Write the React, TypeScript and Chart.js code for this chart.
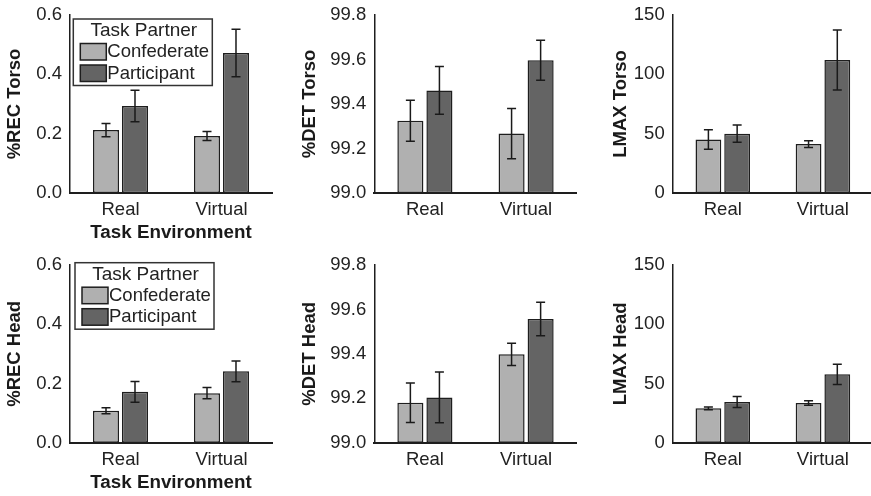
import React, { useEffect, useRef } from 'react';
import { Chart, registerables } from 'chart.js';

Chart.register(...registerables);

// ---------- data ----------
const categories = ['Real', 'Virtual'];
const seriesNames = ['Confederate', 'Participant'];
const legendTitle = 'Task Partner';
const xAxisTitle = 'Task Environment';

const recTicks = [0, 0.2, 0.4, 0.6];
const detTicks = [99.0, 99.2, 99.4, 99.6, 99.8];
const lmaxTicks = [0, 50, 100, 150];

const recTorsoConfederate = [0.212, 0.192];
const recTorsoConfederateSE = [0.022, 0.015];
const recTorsoParticipant = [0.293, 0.472];
const recTorsoParticipantSE = [0.053, 0.08];

const detTorsoConfederate = [99.325, 99.267];
const detTorsoConfederateSE = [0.092, 0.113];
const detTorsoParticipant = [99.461, 99.597];
const detTorsoParticipantSE = [0.107, 0.09];

const lmaxTorsoConfederate = [45.0, 41.2];
const lmaxTorsoConfederateSE = [8.2, 2.9];
const lmaxTorsoParticipant = [50.0, 112.0];
const lmaxTorsoParticipantSE = [7.3, 25.3];

const recHeadConfederate = [0.108, 0.167];
const recHeadConfederateSE = [0.01, 0.019];
const recHeadParticipant = [0.172, 0.241];
const recHeadParticipantSE = [0.035, 0.035];

const detHeadConfederate = [99.18, 99.398];
const detHeadConfederateSE = [0.089, 0.05];
const detHeadParticipant = [99.204, 99.557];
const detHeadParticipantSE = [0.114, 0.075];

const lmaxHeadConfederate = [29.0, 33.5];
const lmaxHeadConfederateSE = [1.1, 1.9];
const lmaxHeadParticipant = [34.3, 57.7];
const lmaxHeadParticipantSE = [4.6, 8.6];

// ---------- styling / layout ----------
const FONT = "'Liberation Sans', Arial, Helvetica, sans-serif";
const TEXT = '#222222';
const LIGHT = '#b0b0b0';
const DARK = '#646464';
const EDGE = '#1e1e1e';

const colX = [0, 290, 580];
const colW = [290, 290, 293];
const axisX = [70, 84.3, 92.7];
const rightPad = [18, 3.3, 0];
const yTitleCenter = [14.5, 19.5, 40.5];
const rowY = [0, 248];
const rowH = 248;
const topPad = [15, 17];
const xScaleH = [51.3, 51.9];
const bottomPad = [3.7, 1.4];
const legendOffset = [
  [3.3, 4],
  [5, -2.3],
];

type PanelDef = {
  row: number;
  col: number;
  yTitle: string;
  conf: number[];
  confSE: number[];
  part: number[];
  partSE: number[];
  ticks: number[];
  decimals: number;
  legend: boolean;
};

const panels: PanelDef[] = [
  { row: 0, col: 0, yTitle: '%REC Torso', conf: recTorsoConfederate, confSE: recTorsoConfederateSE, part: recTorsoParticipant, partSE: recTorsoParticipantSE, ticks: recTicks, decimals: 1, legend: true },
  { row: 0, col: 1, yTitle: '%DET Torso', conf: detTorsoConfederate, confSE: detTorsoConfederateSE, part: detTorsoParticipant, partSE: detTorsoParticipantSE, ticks: detTicks, decimals: 1, legend: false },
  { row: 0, col: 2, yTitle: 'LMAX Torso', conf: lmaxTorsoConfederate, confSE: lmaxTorsoConfederateSE, part: lmaxTorsoParticipant, partSE: lmaxTorsoParticipantSE, ticks: lmaxTicks, decimals: 0, legend: false },
  { row: 1, col: 0, yTitle: '%REC Head', conf: recHeadConfederate, confSE: recHeadConfederateSE, part: recHeadParticipant, partSE: recHeadParticipantSE, ticks: recTicks, decimals: 1, legend: true },
  { row: 1, col: 1, yTitle: '%DET Head', conf: detHeadConfederate, confSE: detHeadConfederateSE, part: detHeadParticipant, partSE: detHeadParticipantSE, ticks: detTicks, decimals: 1, legend: false },
  { row: 1, col: 2, yTitle: 'LMAX Head', conf: lmaxHeadConfederate, confSE: lmaxHeadConfederateSE, part: lmaxHeadParticipant, partSE: lmaxHeadParticipantSE, ticks: lmaxTicks, decimals: 0, legend: false },
];

// ---------- plugins ----------
const errorBarPlugin = {
  id: 'errorBars',
  afterDatasetsDraw(chart: any) {
    const ctx = chart.ctx;
    const y = chart.scales.y;
    chart.data.datasets.forEach((ds: any, i: number) => {
      const meta = chart.getDatasetMeta(i);
      meta.data.forEach((bar: any, j: number) => {
        const v = ds.data[j];
        const e = ds.errors ? ds.errors[j] : 0;
        const top = y.getPixelForValue(v + e);
        const bot = y.getPixelForValue(v - e);
        const cap = 4.5;
        ctx.save();
        ctx.strokeStyle = '#1a1a1a';
        ctx.lineWidth = 1.5;
        ctx.beginPath();
        ctx.moveTo(bar.x, top);
        ctx.lineTo(bar.x, bot);
        ctx.moveTo(bar.x - cap, top);
        ctx.lineTo(bar.x + cap, top);
        ctx.moveTo(bar.x - cap, bot);
        ctx.lineTo(bar.x + cap, bot);
        ctx.stroke();
        ctx.restore();
      });
    });
  },
};

const legendBoxPlugin = {
  id: 'legendBox',
  afterDraw(chart: any, _args: any, opts: any) {
    if (!opts || !opts.display) return;
    const ctx = chart.ctx;
    const { left, top } = chart.chartArea;
    const bx = left + opts.dx;
    const by = top + opts.dy;
    const bw = 139;
    const bh = 66.5;
    ctx.save();
    ctx.fillStyle = '#ffffff';
    ctx.fillRect(bx, by, bw, bh);
    ctx.strokeStyle = '#333333';
    ctx.lineWidth = 1.5;
    ctx.strokeRect(bx, by, bw, bh);
    ctx.fillStyle = TEXT;
    ctx.font = `19px ${FONT}`;
    ctx.textAlign = 'center';
    ctx.textBaseline = 'middle';
    ctx.fillText(opts.title, bx + bw / 2 + 1, by + 12);
    chart.data.datasets.forEach((ds: any, i: number) => {
      const sy = by + 24.5 + i * 21.5;
      ctx.fillStyle = ds.backgroundColor;
      ctx.fillRect(bx + 7, sy, 26, 16.5);
      ctx.strokeStyle = EDGE;
      ctx.lineWidth = 1.5;
      ctx.strokeRect(bx + 7, sy, 26, 16.5);
      ctx.fillStyle = TEXT;
      ctx.textAlign = 'left';
      ctx.font = `18.5px ${FONT}`;
      ctx.fillText(ds.label, bx + 34, sy + 8.5);
    });
    ctx.restore();
  },
};

// ---------- panel ----------
function Panel({ p }: { p: PanelDef }) {
  const ref = useRef<HTMLCanvasElement>(null);
  const w = colW[p.col];
  const h = rowH;

  useEffect(() => {
    if (!ref.current) return;
    const ticks = p.ticks;
    const yMin = ticks[0];
    const yMax = ticks[ticks.length - 1];
    const showXTitle = p.col === 0;
    const chart = new Chart(ref.current, {
      type: 'bar',
      data: {
        labels: categories,
        datasets: [
          {
            label: seriesNames[0],
            data: p.conf,
            errors: p.confSE,
            backgroundColor: LIGHT,
            borderColor: EDGE,
            borderWidth: 1.5,
            borderSkipped: false,
            base: yMin,
            categoryPercentage: 0.574,
            barPercentage: 0.897,
          } as any,
          {
            label: seriesNames[1],
            data: p.part,
            errors: p.partSE,
            backgroundColor: DARK,
            borderColor: EDGE,
            borderWidth: 1.5,
            borderSkipped: false,
            base: yMin,
            categoryPercentage: 0.574,
            barPercentage: 0.897,
          } as any,
        ],
      },
      options: {
        animation: false,
        responsive: false,
        maintainAspectRatio: false,
        devicePixelRatio: 1,
        layout: {
          padding: { left: 0, right: rightPad[p.col], top: topPad[p.row], bottom: bottomPad[p.row] },
        },
        plugins: {
          legend: { display: false },
          tooltip: { enabled: false },
          legendBox: {
            display: p.legend,
            title: legendTitle,
            dx: legendOffset[p.row][0],
            dy: legendOffset[p.row][1],
          },
        } as any,
        scales: {
          x: {
            type: 'category',
            offset: true,
            grid: { display: false, drawTicks: false, tickLength: 0 },
            border: { display: true, color: EDGE, width: 2 },
            ticks: {
              color: TEXT,
              font: { family: FONT, size: 18.5 },
              padding: 6,
              maxRotation: 0,
              autoSkip: false,
            },
            title: {
              display: showXTitle,
              text: xAxisTitle,
              color: '#1a1a1a',
              font: { family: FONT, size: 18.8, weight: 'bold' },
              padding: { top: 0, bottom: 0 },
            },
            afterFit: (s: any) => {
              s.height = xScaleH[p.row];
              s.paddingLeft = 0;
              s.paddingRight = 0;
            },
          },
          y: {
            type: 'linear',
            min: yMin,
            max: yMax,
            grid: { display: false, drawTicks: false, tickLength: 0 },
            border: { display: true, color: EDGE, width: 1.5 },
            afterBuildTicks: (s: any) => {
              s.ticks = ticks.map((v) => ({ value: v }));
            },
            ticks: {
              color: TEXT,
              font: { family: FONT, size: 18.5 },
              padding: 8,
              callback: (v: any) => Number(v).toFixed(p.decimals),
            },
            title: {
              display: true,
              text: p.yTitle,
              color: '#1a1a1a',
              font: { family: FONT, size: 18.5, weight: 'bold' },
              padding: { top: yTitleCenter[p.col] - 11.1, bottom: 0 },
            },
            afterFit: (s: any) => {
              s.width = axisX[p.col];
              s.paddingTop = 0;
              s.paddingBottom = 0;
            },
          },
        },
      } as any,
      plugins: [errorBarPlugin, legendBoxPlugin],
    });
    return () => chart.destroy();
  }, [p]);

  return (
    <div style={{ position: 'absolute', left: colX[p.col], top: rowY[p.row], width: w, height: h }}>
      <canvas ref={ref} width={w} height={h} style={{ width: w, height: h, display: 'block' }} />
    </div>
  );
}

export default function App() {
  return (
    <div
      style={{
        position: 'absolute',
        left: 0,
        top: 0,
        width: 871,
        height: 496,
        overflow: 'hidden',
        background: '#ffffff',
      }}
    >
      {panels.map((p, i) => (
        <Panel key={i} p={p} />
      ))}
    </div>
  );
}
